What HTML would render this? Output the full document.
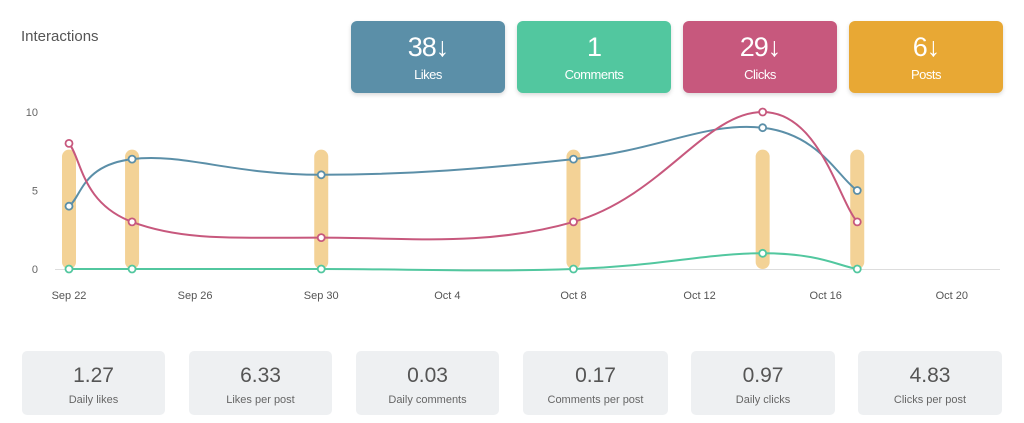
<!DOCTYPE html>
<html><head><meta charset="utf-8"><style>
body{margin:0;width:1024px;height:423px;background:#fff;font-family:"Liberation Sans",sans-serif;position:relative;overflow:hidden}
.title{position:absolute;left:21px;top:28px;font-size:15px;color:#555}
.kpi{position:absolute;top:21px;width:154px;height:72px;border-radius:6px;color:#fff;text-align:center;box-shadow:0 2px 4px rgba(0,0,0,.15)}
.kpi .v{font-size:27px;margin-top:10px;line-height:32px;letter-spacing:-1px}
.kpi .l{font-size:13px;margin-top:4px;letter-spacing:-.5px}
.st{position:absolute;top:351px;width:143px;height:64px;border-radius:5px;background:#eef0f2;text-align:center;color:#555}
.st .v{font-size:21px;margin-top:13px}
.st .l{font-size:11px;margin-top:6px;color:#666}
</style></head><body>
<div class="title">Interactions</div>
<div class="kpi" style="left:351px;background:#5b8fa8"><div class="v">38↓</div><div class="l">Likes</div></div>
<div class="kpi" style="left:517px;background:#52c79f"><div class="v">1</div><div class="l">Comments</div></div>
<div class="kpi" style="left:683px;background:#c7587d"><div class="v">29↓</div><div class="l">Clicks</div></div>
<div class="kpi" style="left:849px;background:#e8a834"><div class="v">6↓</div><div class="l">Posts</div></div>
<svg id="chart" width="1024" height="423" style="position:absolute;left:0;top:0"></svg>
<div class="st" style="left:22px"><div class="v">1.27</div><div class="l">Daily likes</div></div>
<div class="st" style="left:189px"><div class="v">6.33</div><div class="l">Likes per post</div></div>
<div class="st" style="left:356px"><div class="v">0.03</div><div class="l">Daily comments</div></div>
<div class="st" style="left:523px;width:145px"><div class="v">0.17</div><div class="l">Comments per post</div></div>
<div class="st" style="left:691px;width:144px"><div class="v">0.97</div><div class="l">Daily clicks</div></div>
<div class="st" style="left:858px;width:144px"><div class="v">4.83</div><div class="l">Clicks per post</div></div>
<script>
const days=[0,2,8,16,22,25]; // days since Sep 22
const likes=[4,7,6,7,9,5];
const clicks=[8,3,2,3,10,3];
const comments=[0,0,0,0,1,0];
const postDays=[0,2,8,16,22,25];
const xTickDays=[0,4,8,12,16,20,24,28];
const xTickLabels=["Sep 22","Sep 26","Sep 30","Oct 4","Oct 8","Oct 12","Oct 16","Oct 20"];
const yTicks=[0,5,10];
const postBarValue=7.6;
const NS="http://www.w3.org/2000/svg";
const svg=document.getElementById('chart');
const X=d=>69+d*31.53, Y=v=>269-v*15.7;
function mk(t,a){const e=document.createElementNS(NS,t);for(const k in a)e.setAttribute(k,a[k]);svg.appendChild(e);return e;}
const ax=mk('line',{x1:55,x2:1000,y1:269.5,y2:269.5,stroke:'#ddd'});

yTicks.forEach(v=>{const t=mk('text',{x:38,y:Y(v)+4,'text-anchor':'end','font-size':11,fill:'#666'});t.textContent=v;
});
xTickDays.forEach((d,i)=>{const t=mk('text',{x:X(d),y:299,'text-anchor':'middle','font-size':11,fill:'#555'});t.textContent=xTickLabels[i];
});
postDays.forEach(d=>{const b=mk('rect',{x:X(d)-7,y:Y(postBarValue),width:14,height:Y(0)-Y(postBarValue),rx:7,fill:'#f3d296'});
});
function path(vals){const p=days.map((d,i)=>[X(d),Y(vals[i])]);let s='M'+p[0];const t=0.4;
for(let i=0;i<p.length-1;i++){const p0=p[i-1]||p[i],p1=p[i],p2=p[i+1],p3=p[i+2]||p2;
const c1=[p1[0]+(p2[0]-p0[0])*t/2,p1[1]+(p2[1]-p0[1])*t/2],c2=[p2[0]-(p3[0]-p1[0])*t/2,p2[1]-(p3[1]-p1[1])*t/2];
s+=' C'+c1+' '+c2+' '+p2;}return s;}
[[likes,'#5b8fa8','likes'],[clicks,'#c7587d','clicks'],[comments,'#52c79f','comments']].forEach(([v,c,n])=>{
const l=mk('path',{d:path(v),fill:'none',stroke:c,'stroke-width':2});

days.forEach((d,i)=>{const pt=mk('circle',{cx:X(d),cy:Y(v[i]),r:3.5,fill:'#fff',stroke:c,'stroke-width':1.8});
});});
</script>
</body></html>
